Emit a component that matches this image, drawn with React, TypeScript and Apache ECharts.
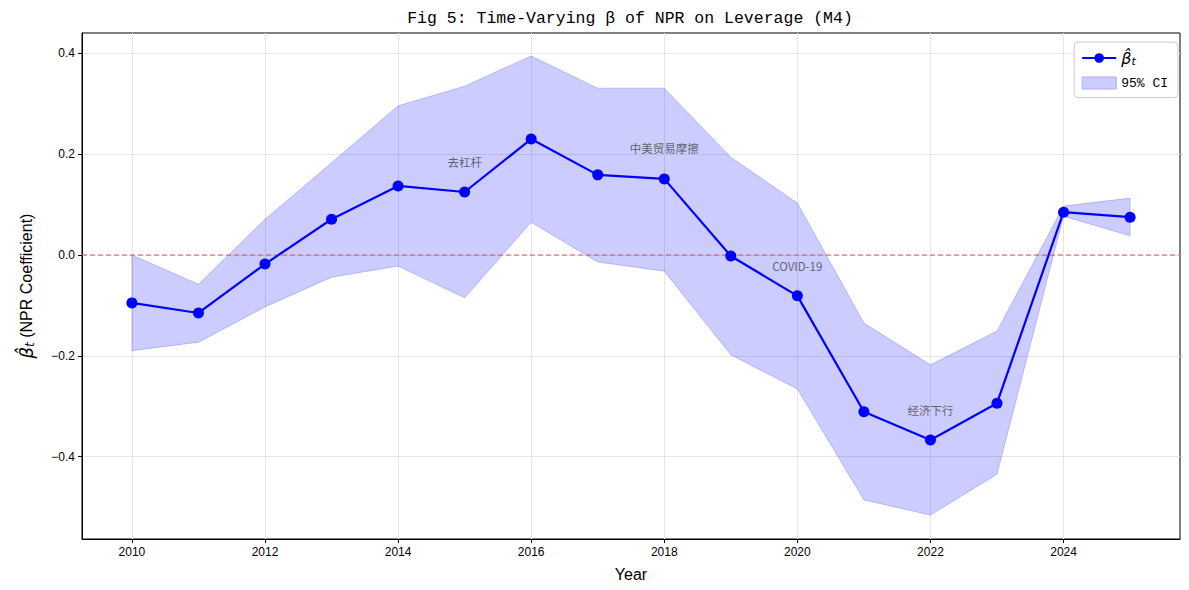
import React, { useEffect, useRef } from "react";
import * as echarts from "echarts";

const years = [2010, 2011, 2012, 2013, 2014, 2015, 2016, 2017, 2018, 2019, 2020, 2021, 2022, 2023, 2024, 2025];
const beta = [-0.095, -0.115, -0.018, 0.071, 0.137, 0.125, 0.230, 0.159, 0.151, -0.002, -0.081, -0.311, -0.367, -0.294, 0.085, 0.075];
const ciUpper = [0.0, -0.058, 0.071, 0.183, 0.296, 0.335, 0.395, 0.331, 0.331, 0.194, 0.103, -0.135, -0.218, -0.151, 0.097, 0.113];
const ciLower = [-0.19, -0.173, -0.103, -0.044, -0.022, -0.085, 0.065, -0.014, -0.032, -0.198, -0.266, -0.486, -0.516, -0.435, 0.077, 0.038];
const xTicks = [2010, 2012, 2014, 2016, 2018, 2020, 2022, 2024];
const yTicks = [-0.4, -0.2, 0.0, 0.2, 0.4];
const zeroLine = [0];
const events = [
  { year: 2015, y: 0.185, label: "去杠杆" },
  { year: 2018, y: 0.212, label: "中美贸易摩擦" },
  { year: 2020, y: -0.022, label: "COVID-19" },
  { year: 2022, y: -0.308, label: "经济下行" },
];

const TICK_FONT = "'Liberation Sans', Arial, sans-serif";
const CJK_FONT = "'Noto Sans CJK SC', sans-serif";
const MONO_FONT = "'Liberation Mono', 'DejaVu Sans Mono', monospace";
const MATH_FONT = "'DejaVu Sans', sans-serif";
const ZERO_COLOR = "#e05050";

export default function App() {
  const ref = useRef<HTMLDivElement>(null);
  useEffect(() => {
    if (!ref.current) return;
    const chart = echarts.init(ref.current, undefined, { renderer: "svg" });
    const fmtY = (v: number) => (v < 0 ? "\u2212" : "") + Math.abs(v).toFixed(1);
    chart.setOption({
      animation: false,
      graphic: [
        {
          type: "text",
          x: 630,
          y: 18,
          style: {
            text: "Fig 5: Time-Varying \u03b2 of NPR on Leverage (M4)",
            fontFamily: MONO_FONT,
            fontSize: 16.5,
            fontWeight: 500,
            fill: "#000",
            textAlign: "center",
            textVerticalAlign: "middle",
          },
        },
      ],
      grid: { left: 82, right: 9, top: 33, bottom: 51, show: true, borderColor: "#000", borderWidth: 1, backgroundColor: "transparent" },
      legend: {
        orient: "vertical",
        right: 11,
        top: 42,
        itemWidth: 34,
        itemHeight: 12,
        itemGap: 10,
        padding: [8, 10, 8, 7],
        borderColor: "#cccccc",
        borderWidth: 1,
        borderRadius: 4,
        backgroundColor: "#fff",
        data: [
          { name: "beta" },
          { name: "95% CI", icon: "rect", itemStyle: { color: "#ccccff", borderColor: "#aaaaff", borderWidth: 1 } },
        ],
        formatter: (name: string) => (name === "beta" ? "{b|\u03b2\u0302}{s|t}" : "{n|95% CI}"),
        textStyle: {
          rich: {
            b: { fontFamily: MATH_FONT, fontStyle: "italic", fontSize: 16, color: "#000" },
            s: { fontFamily: MATH_FONT, fontStyle: "italic", fontSize: 11, color: "#000", verticalAlign: "bottom", padding: [6, 0, 0, 0] },
            n: { fontFamily: MONO_FONT, fontSize: 13, color: "#000" },
          },
        },
      },
      xAxis: {
        type: "value",
        min: 2009.25,
        max: 2025.75,
        name: "Year",
        nameLocation: "middle",
        nameGap: 27,
        nameTextStyle: { fontFamily: TICK_FONT, fontSize: 16, color: "#000" },
        axisLine: { show: true, onZero: false, lineStyle: { color: "#000" } },
        axisTick: { show: true, length: 4, lineStyle: { color: "#000" }, customValues: xTicks },
        axisLabel: { customValues: xTicks, fontFamily: TICK_FONT, fontSize: 12, color: "#000", margin: 7, formatter: (v: number) => String(v) },
        splitLine: { show: true, lineStyle: { color: "#e6e6e6", width: 1 } },
      },
      yAxis: {
        type: "value",
        min: -0.5635,
        max: 0.4405,
        name: "{b|\u03b2\u0302}{s|t}{n| (NPR Coefficient)}",
        nameLocation: "middle",
        nameGap: 46,
        nameRotate: 90,
        nameTextStyle: {
          color: "#000",
          rich: {
            b: { fontFamily: MATH_FONT, fontStyle: "italic", fontSize: 18, color: "#000" },
            s: { fontFamily: MATH_FONT, fontStyle: "italic", fontSize: 12, color: "#000", verticalAlign: "bottom", padding: [8, 0, 0, 0] },
            n: { fontFamily: TICK_FONT, fontSize: 16, color: "#000" },
          },
        },
        axisLine: { show: true, onZero: false, lineStyle: { color: "#000" } },
        axisTick: { show: true, length: 4, lineStyle: { color: "#000" }, customValues: yTicks },
        axisLabel: { customValues: yTicks, fontFamily: TICK_FONT, fontSize: 12, color: "#000", margin: 7, formatter: fmtY },
        splitLine: { show: true, lineStyle: { color: "#e6e6e6", width: 1 } },
      },
      series: [
        {
          name: "95% CI",
          type: "custom",
          data: [0],
          silent: true,
          itemStyle: { color: "#ccccff" },
          renderItem: (params: any, api: any) => {
            const pts: number[][] = [];
            for (let i = 0; i < years.length; i++) pts.push(api.coord([years[i], ciUpper[i]]));
            for (let i = years.length - 1; i >= 0; i--) pts.push(api.coord([years[i], ciLower[i]]));
            return {
              type: "polygon",
              shape: { points: pts },
              style: { fill: "rgba(0,0,255,0.2)", stroke: "rgba(0,0,255,0.2)", lineWidth: 1 },
            };
          },
          z: 1,
        },
        {
          name: "zero",
          type: "custom",
          data: zeroLine.map((v) => [years[0], v]),
          silent: true,
          renderItem: (params: any, api: any) => {
            const cs = params.coordSys;
            const y = api.coord([api.value(0), api.value(1)])[1];
            return {
              type: "line",
              shape: { x1: cs.x, y1: y, x2: cs.x + cs.width, y2: y },
              style: { stroke: ZERO_COLOR, lineWidth: 1, lineDash: [5, 3], fill: null },
            };
          },
          z: 2,
        },
        {
          name: "beta",
          type: "line",
          data: years.map((y, i) => [y, beta[i]]),
          symbol: "circle",
          symbolSize: 11,
          showSymbol: true,
          itemStyle: { color: "#0000ff" },
          lineStyle: { color: "#0000ff", width: 2.2 },
          z: 3,
        },
        {
          name: "events",
          type: "scatter",
          data: events.map((e) => [e.year, e.y, e.label]),
          symbolSize: 1,
          itemStyle: { color: "transparent" },
          label: {
            show: true,
            position: "inside",
            formatter: (p: any) => p.value[2],
            fontFamily: CJK_FONT,
            fontSize: 11.5,
            color: "#444",
          },
          silent: true,
          z: 4,
        },
      ],
    });
    return () => chart.dispose();
  }, []);
  return <div ref={ref} style={{ width: 1189, height: 590, position: "absolute", left: 0, top: 0 }} />;
}
